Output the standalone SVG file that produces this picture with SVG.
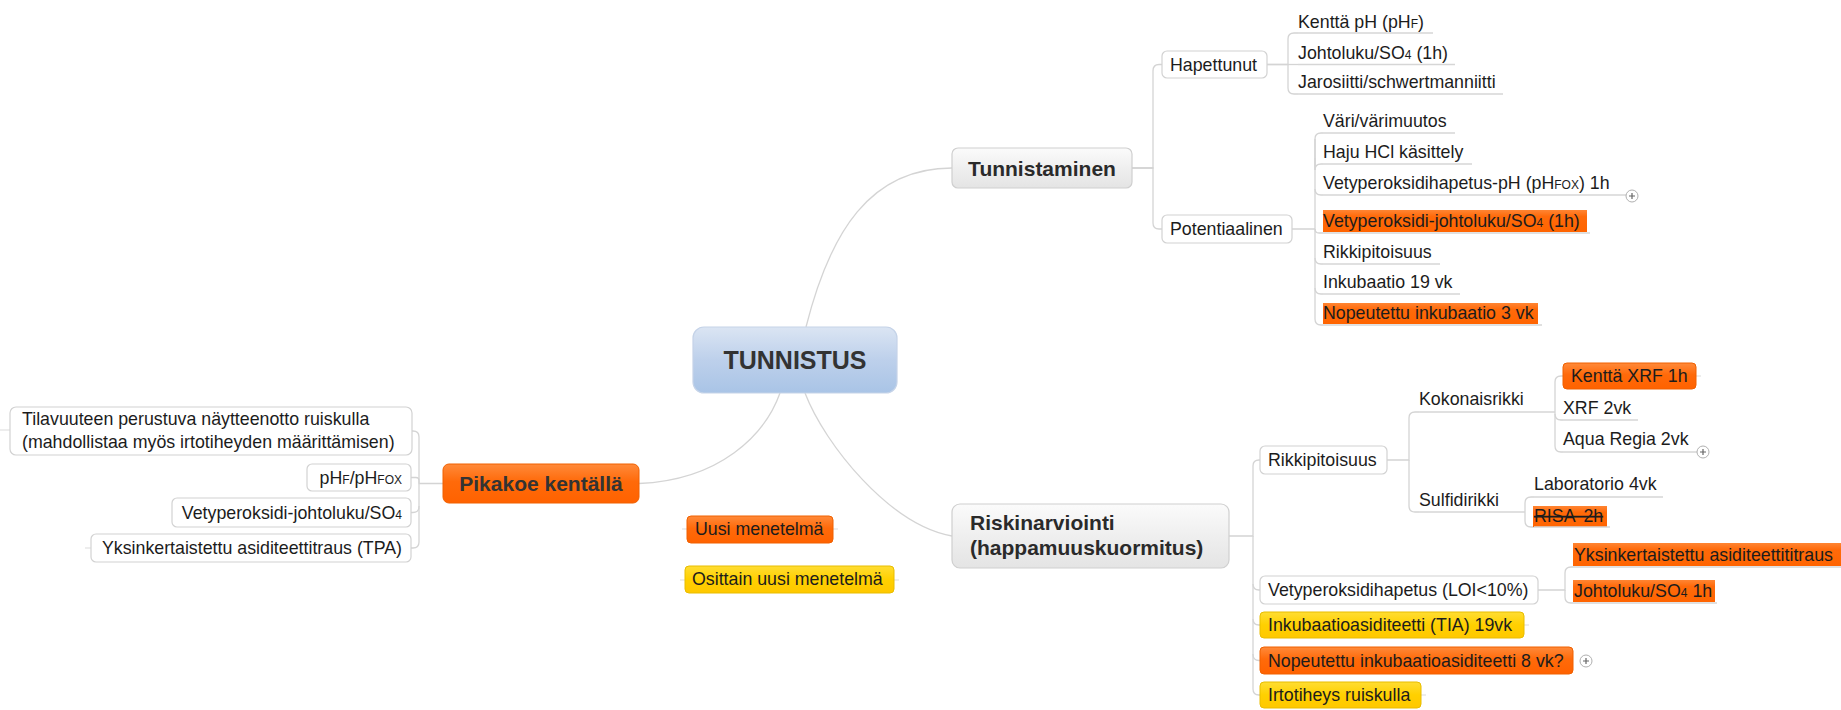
<svg xmlns="http://www.w3.org/2000/svg" width="1841" height="710" viewBox="0 0 1841 710">
<defs>
<linearGradient id="gBlue" x1="0" y1="0" x2="0" y2="1"><stop offset="0" stop-color="#dbe5f3"/><stop offset="0.5" stop-color="#bdd0eb"/><stop offset="1" stop-color="#a9c4e6"/></linearGradient>
<linearGradient id="gGray" x1="0" y1="0" x2="0" y2="1"><stop offset="0" stop-color="#fbfbfb"/><stop offset="0.5" stop-color="#efefef"/><stop offset="1" stop-color="#e4e4e4"/></linearGradient>
<linearGradient id="gOr" x1="0" y1="0" x2="0" y2="1"><stop offset="0" stop-color="#ff8a3a"/><stop offset="0.45" stop-color="#ff6a0a"/><stop offset="1" stop-color="#ff6200"/></linearGradient>
<linearGradient id="gHl" x1="0" y1="0" x2="0" y2="1"><stop offset="0" stop-color="#ff8533"/><stop offset="0.3" stop-color="#ff6a0a"/><stop offset="1" stop-color="#ff6400"/></linearGradient>
<linearGradient id="gYe" x1="0" y1="0" x2="0" y2="1"><stop offset="0" stop-color="#ffdd33"/><stop offset="0.5" stop-color="#ffd000"/><stop offset="1" stop-color="#ffc800"/></linearGradient>
<g id="plus"><circle r="6" fill="#fff" stroke="#b0b0b0" stroke-width="1"/><path d="M-3,0 H3 M0,-3 V3" stroke="#666" stroke-width="1.2"/></g>
</defs>
<style>
.c{fill:none;stroke:#d4d4d4;stroke-width:1.3}
.ul{fill:none;stroke:#d6d6d6;stroke-width:1.3}
.t{font-family:"Liberation Sans",Arial,sans-serif;font-size:17.8px;fill:#1c1c1c}
.b{font-family:"Liberation Sans",Arial,sans-serif;font-weight:bold;font-size:21px;fill:#2a2a2a}
.s{font-size:12px}
.box{fill:#fff;stroke:#d2d2d2;stroke-width:1.2}
.gbox{fill:url(#gGray);stroke:#cfcfcf;stroke-width:1.2}
.obox{fill:url(#gOr);stroke:#f06000;stroke-width:1}
.ybox{fill:url(#gYe);stroke:#e8bd00;stroke-width:1}
.hl{fill:url(#gHl)}
.stub{stroke:#dcdcdc;stroke-width:1.2}
</style>
<rect width="1841" height="710" fill="#fff"/>

<g id="connectors">
<path class="c" d="M806,327 C830,232 870,168 952,168"/>
<path class="c" d="M805,393 C825,445 890,525 952,536"/>
<path class="c" d="M639,483.5 C720,480 765,435 780,393"/>
<!-- Tunnistaminen -->
<path class="c" d="M1132,168 H1153 V71 Q1153,64.5 1159,64.5 H1162"/>
<path class="c" d="M1132,168 H1153 V223 Q1153,229 1159,229 H1162"/>
<!-- Hapettunut -->
<path class="c" d="M1267,64.5 H1288 V39 Q1288,33 1294,33 H1298"/>
<path class="c" d="M1267,64.5 H1298"/>
<path class="c" d="M1288,64.5 V88 Q1288,94 1294,94 H1298"/>
<!-- Potentiaalinen -->
<path class="c" d="M1292,229 H1315 V139 Q1315,133 1321,133 H1323"/>
<path class="c" d="M1315,158 V170 Q1315,164 1321,164 H1323"/>
<path class="c" d="M1315,190 V189 Q1315,195 1321,195 H1323"/>
<path class="c" d="M1315,229 Q1315,233 1319,233 H1323"/>
<path class="c" d="M1315,229 V258 Q1315,264 1321,264 H1323"/>
<path class="c" d="M1315,258 V288 Q1315,294 1321,294 H1323"/>
<path class="c" d="M1315,288 V319 Q1315,325 1321,325 H1323"/>
<path class="c" d="M1315,139 V170"/>
<!-- Pikakoe -->
<path class="c" d="M443,483.5 H419 V437 Q419,431 413,431 H412"/>
<path class="c" d="M419,483.5 V480.5 Q419,477.5 416,477.5 H411"/>
<path class="c" d="M419,483.5 V506.5 Q419,512.5 413,512.5 H411"/>
<path class="c" d="M419,506 V542 Q419,548 413,548 H411"/>
<!-- Riskinarviointi -->
<path class="c" d="M1229,536 H1253 V466 Q1253,460 1259,460 H1260"/>
<path class="c" d="M1253,536 V584 Q1253,590 1259,590 H1260"/>
<path class="c" d="M1253,584 V619 Q1253,625 1259,625 H1260"/>
<path class="c" d="M1253,619 V654.5 Q1253,660.5 1259,660.5 H1260"/>
<path class="c" d="M1253,654 V689 Q1253,695 1259,695 H1260"/>
<!-- Rikkipitoisuus -->
<path class="c" d="M1387,460 H1409 V418 Q1409,412 1415,412 H1419"/>
<path class="c" d="M1409,460 V506 Q1409,512 1415,512 H1419"/>
<!-- Kokonaisrikki -->
<path class="c" d="M1555,412 V382 Q1555,376 1561,376 H1563"/>
<path class="c" d="M1555,412 V414 Q1555,420 1561,420 H1563"/>
<path class="c" d="M1555,414 V446 Q1555,452 1561,452 H1563"/>
<!-- Sulfidirikki -->
<path class="c" d="M1525,512 V503 Q1525,497 1531,497 H1534"/>
<path class="c" d="M1525,512 V521 Q1525,527 1531,527 H1534"/>
<!-- Vety LOI -->
<path class="c" d="M1538,590 H1565 V573 Q1565,567 1571,567 H1573"/>
<path class="c" d="M1565,590 V597 Q1565,603 1571,603 H1573"/>
<!-- small handles -->
<path class="stub" d="M0,430 H10 M85,548 H91 M682,529 H687 M833,529 H838 M680,580 H685 M894,580 H899 M1696,376 H1701 M1524,625 H1529 M1421,695 H1426"/>
</g>

<g id="n-center">
<rect x="693" y="327" width="204" height="66" rx="11" fill="url(#gBlue)" stroke="#c5d3e8" stroke-width="1.2"/>
<text x="795" y="369" text-anchor="middle" class="b" style="font-size:25px;fill:#333">TUNNISTUS</text>
</g>

<g id="n-tunnistaminen">
<rect x="952" y="148" width="180" height="40" rx="6" class="gbox"/>
<text x="1042" y="175.5" text-anchor="middle" class="b">Tunnistaminen</text>
</g>

<g id="n-hapettunut">
<rect x="1162" y="51" width="105" height="27" rx="5" class="box"/>
<text x="1170" y="70.5" class="t">Hapettunut</text>
</g>
<g id="n-kentta-ph">
<text x="1298" y="28" class="t">Kenttä pH (pH<tspan class="s">F</tspan>)</text>
<path class="ul" d="M1298,33 H1433"/>
</g>
<g id="n-johtoluku">
<text x="1298" y="59" class="t">Johtoluku/SO<tspan class="s">4</tspan> (1h)</text>
<path class="ul" d="M1298,64.5 H1455"/>
</g>
<g id="n-jarosiitti">
<text x="1298" y="88" class="t">Jarosiitti/schwertmanniitti</text>
<path class="ul" d="M1298,94 H1503"/>
</g>

<g id="n-potentiaalinen">
<rect x="1162" y="215" width="130" height="28" rx="5" class="box"/>
<text x="1170" y="235" class="t">Potentiaalinen</text>
</g>
<g id="n-vari">
<text x="1323" y="127" class="t">Väri/värimuutos</text>
<path class="ul" d="M1323,133 H1455"/>
</g>
<g id="n-haju">
<text x="1323" y="158" class="t">Haju HCl käsittely</text>
<path class="ul" d="M1323,164 H1472"/>
</g>
<g id="n-vety-ph">
<text x="1323" y="189" class="t">Vetyperoksidihapetus-pH (pH<tspan class="s">FOX</tspan>) 1h</text>
<path class="ul" d="M1323,195 H1626"/>
<use href="#plus" x="1632" y="196"/>
</g>
<g id="n-vety-johto">
<rect x="1323" y="210" width="264" height="22" class="hl"/>
<text x="1323" y="227" class="t">Vetyperoksidi-johtoluku/SO<tspan class="s">4</tspan> (1h)</text>
<path class="ul" d="M1323,233 H1590"/>
</g>
<g id="n-rikki1">
<text x="1323" y="258" class="t">Rikkipitoisuus</text>
<path class="ul" d="M1323,264 H1440"/>
</g>
<g id="n-inkubaatio">
<text x="1323" y="288" class="t">Inkubaatio 19 vk</text>
<path class="ul" d="M1323,294 H1460"/>
</g>
<g id="n-nopeutettu3">
<rect x="1323" y="303" width="215" height="21" class="hl"/>
<text x="1323" y="319" class="t">Nopeutettu inkubaatio 3 vk</text>
<path class="ul" d="M1323,325 H1542"/>
</g>

<g id="n-riskinarviointi">
<rect x="952" y="504" width="277" height="64" rx="8" class="gbox"/>
<text x="970" y="530" class="b">Riskinarviointi</text>
<text x="970" y="555" class="b">(happamuuskuormitus)</text>
</g>

<g id="n-rikkipitoisuus">
<rect x="1260" y="446" width="127" height="28" rx="5" class="box"/>
<text x="1268" y="466" class="t">Rikkipitoisuus</text>
</g>
<g id="n-kokonaisrikki">
<text x="1419" y="405" class="t">Kokonaisrikki</text>
<path class="ul" d="M1419,412 H1555"/>
</g>
<g id="n-sulfidirikki">
<text x="1419" y="506" class="t">Sulfidirikki</text>
<path class="ul" d="M1419,512 H1525"/>
</g>
<g id="n-kentta-xrf">
<rect x="1563" y="363" width="133" height="26" rx="4" class="obox"/>
<text x="1571" y="382" class="t">Kenttä XRF 1h</text>
</g>
<g id="n-xrf">
<text x="1563" y="414" class="t">XRF 2vk</text>
<path class="ul" d="M1563,420 H1638"/>
</g>
<g id="n-aqua">
<text x="1563" y="445" class="t">Aqua Regia 2vk</text>
<path class="ul" d="M1563,452 H1697"/>
<use href="#plus" x="1703" y="452"/>
</g>
<g id="n-laboratorio">
<text x="1534" y="490" class="t">Laboratorio 4vk</text>
<path class="ul" d="M1534,497 H1663"/>
</g>
<g id="n-risa">
<rect x="1533" y="506" width="74" height="21" class="hl"/>
<text x="1534" y="522" class="t" text-decoration="line-through" style="word-spacing:4px">RISA 2h</text>
<path class="ul" d="M1534,527 H1610"/>
</g>

<g id="n-vety-loi">
<rect x="1260" y="576" width="278" height="28" rx="5" class="box"/>
<text x="1268" y="596" class="t">Vetyperoksidihapetus (LOI&lt;10%)</text>
</g>
<g id="n-yksink-r">
<rect x="1573" y="543" width="268" height="23" class="hl"/>
<text x="1574" y="561" class="t">Yksinkertaistettu asiditeettititraus</text>
<path class="ul" d="M1573,567 H1841"/>
</g>
<g id="n-johtoluku-1h">
<rect x="1573" y="580" width="142" height="22" class="hl"/>
<text x="1574" y="597" class="t">Johtoluku/SO<tspan class="s">4</tspan> 1h</text>
<path class="ul" d="M1573,603 H1717"/>
</g>
<g id="n-tia">
<rect x="1260" y="612" width="264" height="26" rx="4" class="ybox"/>
<text x="1268" y="631" class="t">Inkubaatioasiditeetti (TIA) 19vk</text>
</g>
<g id="n-nopeutettu8">
<rect x="1260" y="647" width="313" height="27" rx="4" class="obox"/>
<text x="1268" y="667" class="t">Nopeutettu inkubaatioasiditeetti 8 vk?</text>
<use href="#plus" x="1586" y="661"/>
</g>
<g id="n-irtotiheys">
<rect x="1260" y="682" width="161" height="26" rx="4" class="ybox"/>
<text x="1268" y="701" class="t">Irtotiheys ruiskulla</text>
</g>

<g id="n-pikakoe">
<rect x="443" y="464" width="196" height="39" rx="6" class="obox"/>
<text x="541" y="491" text-anchor="middle" class="b" style="fill:#333">Pikakoe kentällä</text>
</g>
<g id="n-tilavuuteen">
<rect x="10" y="407" width="402" height="48" rx="6" class="box"/>
<text x="22" y="425" class="t">Tilavuuteen perustuva näytteenotto ruiskulla</text>
<text x="22" y="448" class="t">(mahdollistaa myös irtotiheyden määrittämisen)</text>
</g>
<g id="n-phf">
<rect x="307" y="464" width="104" height="27" rx="5" class="box"/>
<text x="402" y="484" text-anchor="end" class="t">pH<tspan class="s">F</tspan>/pH<tspan class="s">FOX</tspan></text>
</g>
<g id="n-vety-left">
<rect x="172" y="498" width="239" height="29" rx="5" class="box"/>
<text x="402" y="519" text-anchor="end" class="t">Vetyperoksidi-johtoluku/SO<tspan class="s">4</tspan></text>
</g>
<g id="n-tpa">
<rect x="91" y="534" width="320" height="28" rx="5" class="box"/>
<text x="402" y="554" text-anchor="end" class="t">Yksinkertaistettu asiditeettitraus (TPA)</text>
</g>

<g id="n-uusi">
<rect x="687" y="516" width="146" height="27" rx="4" class="obox"/>
<text x="695" y="535" class="t">Uusi menetelmä</text>
</g>
<g id="n-osittain">
<rect x="685" y="566" width="209" height="27" rx="4" class="ybox"/>
<text x="692" y="585" class="t">Osittain uusi menetelmä</text>
</g>
</svg>
